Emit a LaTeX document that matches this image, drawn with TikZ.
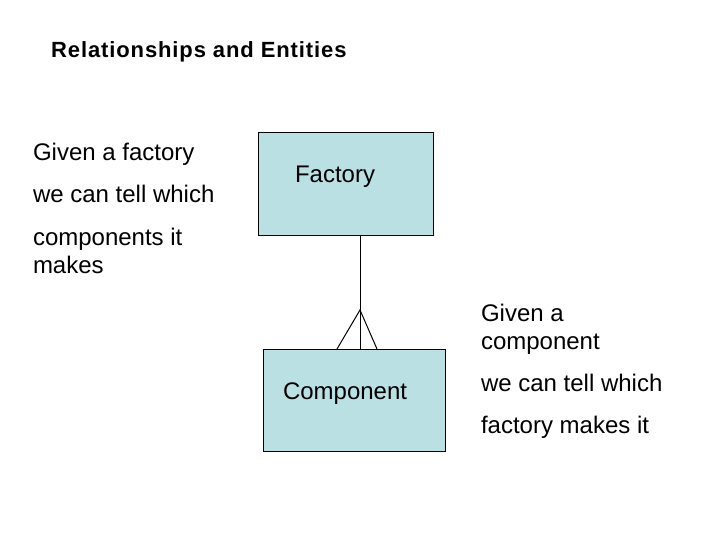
\documentclass[tikz,border=0pt]{standalone}
\usepackage{fontspec}
\setmainfont{Liberation Sans}
\newfontfamily\titlefont[LetterSpace=4]{Liberation Sans}
\definecolor{boxfill}{RGB}{187,224,228}
\begin{document}
\begin{tikzpicture}[x=1pt,y=-1pt,
  ebox/.style={draw=black,line width=1pt,fill=boxfill,rectangle,inner sep=0pt,outer sep=0pt,anchor=north west},
  txt/.style={inner sep=0pt,outer sep=0pt,anchor=base west,font=\fontsize{24}{28}\selectfont},
  link/.style={draw=black,line width=1pt}]
\useasboundingbox[fill=white] (0,0) rectangle (720,540);
\node[inner sep=0pt,anchor=base west,font=\titlefont\bfseries\fontsize{22}{26}\selectfont] (title) at (51,58) {Relationships and Entities};
% left text
\node[txt] (l1) at (33,161) {Given a factory};
\node[txt] (l2) at (33,203) {we can tell which};
\node[txt] (l3) at (33,245) {components it};
\node[txt] (l4) at (33,273) {makes};
% right text
\node[txt] (r1) at (481,321) {Given a};
\node[txt] (r2) at (481,349) {component};
\node[txt] (r3) at (481,391) {we can tell which};
\node[txt] (r4) at (481,433) {factory makes it};
% boxes
\node[ebox,minimum width=175pt,minimum height=102pt] (fac) at (258,133) {};
\node[txt] (factxt) at (295,183) {Factory};
\node[ebox,minimum width=182pt,minimum height=102pt] (comp) at (263,349) {};
\node[txt] (comptxt) at (283,399) {Component};
% connector with crow's foot
\coordinate (apex) at (360,310);
\coordinate (footL) at (337,349);
\coordinate (footR) at (377,349);
\draw[link] (apex |- fac.south) -- (apex |- comp.north);
\draw[link] (footL) -- (apex) -- (footR);
\end{tikzpicture}
\end{document}
